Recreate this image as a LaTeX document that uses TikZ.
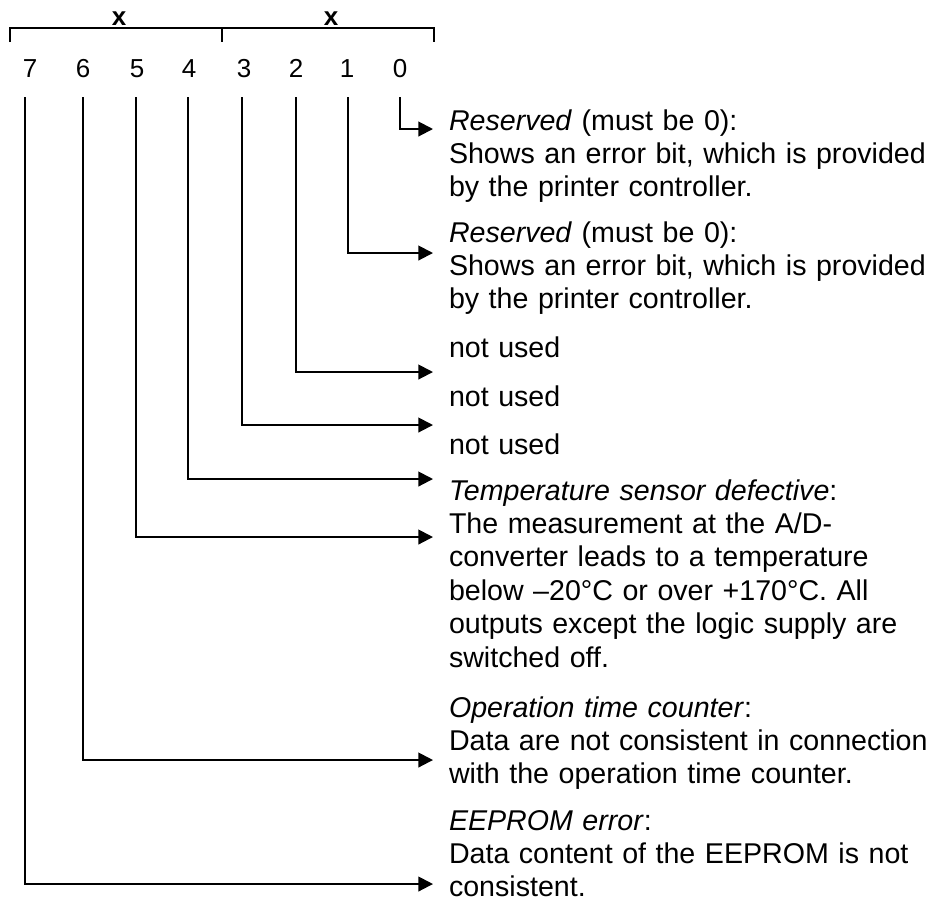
\documentclass[tikz,border=0pt]{standalone}
\usepackage{fontspec}
\setmainfont{Liberation Sans}
\usetikzlibrary{arrows.meta}

\begin{document}
\begin{tikzpicture}[
            x=0.5pt, y=-0.5pt,
            line width=1pt,
            bitno/.style = {anchor=base, inner sep=0pt, font=\fontsize{13}{15}\selectfont},
            nibble/.style = {anchor=base, inner sep=0pt, font=\fontsize{13}{15}\selectfont\bfseries},
            desc/.style = {anchor=base west, inner sep=0pt, text width=250pt, align=left,
                           font=\fontsize{14.3}{16.7}\selectfont},
            bitline/.style = {-{Triangle[length=7.3pt, width=7.3pt]}},
        ]
            \useasboundingbox (0,0) rectangle (941,902);

            % Nibble bracket on top
            \draw (10,42) -- (10,28) -- (434,28) -- (434,42);
            \draw (222,28) -- (222,42);
            \node[nibble] (hi) at (119,25) {x};
            \node[nibble] (lo) at (331,25) {x};

            % Bit numbers
            \node[bitno] (b7) at (30,77) {7};
            \node[bitno] (b6) at (83,77) {6};
            \node[bitno] (b5) at (137,77) {5};
            \node[bitno] (b4) at (189,77) {4};
            \node[bitno] (b3) at (244,77) {3};
            \node[bitno] (b2) at (296,77) {2};
            \node[bitno] (b1) at (347,77) {1};
            \node[bitno] (b0) at (400,77) {0};

            % Descriptions
            \node[desc] (d0) at (448,130) {\textit{Reserved} (must be 0):\\Shows an error bit, which is provided\\by the printer controller.};
            \node[desc] (d1) at (448,242) {\textit{Reserved} (must be 0):\\Shows an error bit, which is provided\\by the printer controller.};
            \node[desc] (d2) at (448,357) {not used};
            \node[desc] (d3) at (448,406) {not used};
            \node[desc] (d4) at (448,454) {not used};
            \node[desc] (d5) at (448,500) {\textit{Temperature sensor defective}:\\The measurement at the A/D-\\converter leads to a temperature\\below –20°C or over +170°C. All\\outputs except the logic supply are\\switched off.};
            \node[desc] (d6) at (448,717) {\textit{Operation time counter}:\\Data are not consistent in connection\\with the operation time counter.};
            \node[desc] (d7) at (448,830) {\textit{EEPROM error}:\\Data content of the EEPROM is not\\consistent.};

            % Line starts below the bit numbers
            \coordinate (s7) at (25,97);
            \coordinate (s6) at (83,97);
            \coordinate (s5) at (136,97);
            \coordinate (s4) at (188,97);
            \coordinate (s3) at (242,97);
            \coordinate (s2) at (296,97);
            \coordinate (s1) at (348,97);
            \coordinate (s0) at (400,97);

            % Arrow ends in front of the texts
            \coordinate (e0) at (433,129);
            \coordinate (e1) at (433,253);
            \coordinate (e2) at (433,372);
            \coordinate (e3) at (433,425);
            \coordinate (e4) at (433,479);
            \coordinate (e5) at (433,537);
            \coordinate (e6) at (433,760);
            \coordinate (e7) at (433,884);

            % Bit lines
            \draw[bitline] (s0) |- (e0);
            \draw[bitline] (s1) |- (e1);
            \draw[bitline] (s2) |- (e2);
            \draw[bitline] (s3) |- (e3);
            \draw[bitline] (s4) |- (e4);
            \draw[bitline] (s5) |- (e5);
            \draw[bitline] (s6) |- (e6);
            \draw[bitline] (s7) |- (e7);
        \end{tikzpicture}
\end{document}
